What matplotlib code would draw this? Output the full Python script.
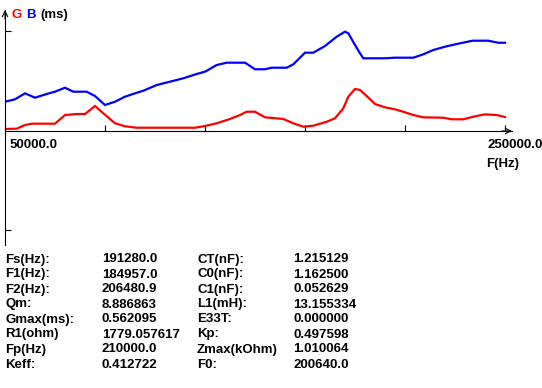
import matplotlib
matplotlib.use("Agg")
import matplotlib.pyplot as plt

# frequency sweep (Hz) and conductance / susceptance (ms)
freq_g = [50000, 54680, 58000, 60680, 70000, 74000, 78680, 82000, 86000, 89320,
          94000, 98000, 102680, 126000, 130000, 134680, 140000, 144000, 146680, 150000,
          154000, 161320, 165320, 169320, 173320, 178680, 182000, 185320, 187320, 190000,
          192000, 194680, 198000, 202000, 206000, 209320, 213320, 217320, 225320, 228680,
          233320, 237320, 242000, 246680, 250000]
g_ms = [0.027, 0.031, 0.080, 0.098, 0.098, 0.214, 0.227, 0.227, 0.335, 0.237,
        0.103, 0.063, 0.044, 0.044, 0.067, 0.103, 0.161, 0.214, 0.258, 0.258,
        0.183, 0.161, 0.103, 0.058, 0.071, 0.124, 0.170, 0.304, 0.459, 0.562,
        0.549, 0.468, 0.361, 0.317, 0.290, 0.258, 0.214, 0.183, 0.178, 0.157,
        0.157, 0.191, 0.223, 0.214, 0.187]

freq_b = [50000, 54000, 58000, 62000, 66680, 70000, 74000, 77320, 82680, 86000,
          90000, 94000, 98000, 102000, 105320, 110680, 116000, 121320, 126680, 130000,
          134680, 138680, 146000, 150000, 154000, 156680, 162680, 165320, 170000, 173320,
          178000, 182680, 186000, 187320, 190000, 192000, 193320, 202000, 206000, 213320,
          217320, 221320, 226000, 230680, 237000, 243320, 247320, 250000]
b_ms = [0.392, 0.424, 0.504, 0.446, 0.495, 0.526, 0.579, 0.526, 0.526, 0.468,
        0.348, 0.392, 0.459, 0.504, 0.539, 0.615, 0.660, 0.705, 0.763, 0.793,
        0.883, 0.914, 0.914, 0.826, 0.826, 0.847, 0.847, 0.892, 1.048, 1.048,
        1.137, 1.262, 1.329, 1.307, 1.151, 1.040, 0.973, 0.973, 0.981, 0.981,
        1.026, 1.084, 1.128, 1.164, 1.208, 1.208, 1.181, 1.181]

x_ticks = [50000, 90000, 130000, 170000, 210000, 250000]
y_ticks = [-1.325, 1.338]

param_names_1 = ["Fs(Hz):", "F1(Hz):", "F2(Hz):", "Qm:", "Gmax(ms):", "R1(ohm)", "Fp(Hz)", "Keff:"]
param_values_1 = ["191280.0", "184957.0", "206480.9", "8.886863", "0.562095", "1779.057617",
                  "210000.0", "0.412722"]
param_names_2 = ["CT(nF):", "C0(nF):", "C1(nF):", "L1(mH):", "E33T:", "Kp:", "Zmax(kOhm)", "F0:"]
param_values_2 = ["1.215129", "1.162500", "0.052629", "13.155334", "0.000000", "0.497598",
                  "1.010064", "200640.0"]

W, H = 542, 388
font = dict(family=["Liberation Sans", "DejaVu Sans"], weight="bold", fontsize=9.5)

fig = plt.figure(figsize=(W / 100, H / 100), dpi=100)
fig.patch.set_facecolor("white")

# axes box: x pixels 5..512, y pixels 10..245
ax = fig.add_axes([5 / W, (H - 245) / H, 507 / W, 235 / H])
ax.set_facecolor("white")
ax.set_xlim(50000, 252800)
ax.set_ylim(-1.525, 1.619)

ax.plot(freq_b, b_ms, color="#0000ff", lw=1.6, solid_joinstyle="miter")
ax.plot(freq_g, g_ms, color="#ff0000", lw=1.6, solid_joinstyle="miter")

for side in ("top", "right"):
    ax.spines[side].set_visible(False)
ax.spines["bottom"].set_position(("data", 0))
ax.spines["left"].set_position(("data", 50000))
for side in ("bottom", "left"):
    ax.spines[side].set_linewidth(0.8)
    ax.spines[side].set_color("black")

ax.set_xticks(x_ticks)
ax.set_yticks(y_ticks)
ax.tick_params(direction="in", length=4, width=0.8, labelbottom=False, labelleft=False)

arrow = dict(arrowstyle="->", lw=0.8, color="black", shrinkA=0, shrinkB=0)
ax.annotate("", xy=(1, 0), xycoords=("axes fraction", "data"),
            xytext=(0.98, 0), textcoords=("axes fraction", "data"), arrowprops=arrow)
ax.annotate("", xy=(50000, 1.619), xytext=(50000, 1.5), arrowprops=arrow,
            annotation_clip=False)


def px(x, y):
    return x / W, 1 - y / H


fig.text(*px(12, 15), "G", color="#ff0000", va="center", ha="left", **font)
fig.text(*px(26, 15), "B", color="#0000ff", va="center", ha="left", **font)
fig.text(*px(40, 15), "(ms)", color="black", va="center", ha="left", **font)

fig.text(*px(10, 145), "50000.0", va="center", ha="left", **font)
fig.text(*px(543, 145), "250000.0", va="center", ha="right", **font)
fig.text(*px(519, 164), "F(Hz)", va="center", ha="right", **font)

columns = [(5, param_names_1), (102, param_values_1), (197, param_names_2), (293, param_values_2)]
for x0, items in columns:
    for i, label in enumerate(items):
        fig.text(*px(x0, 259.5 + 15 * i), label, va="center", ha="left", **font)

fig.savefig("out.png", dpi=100)
